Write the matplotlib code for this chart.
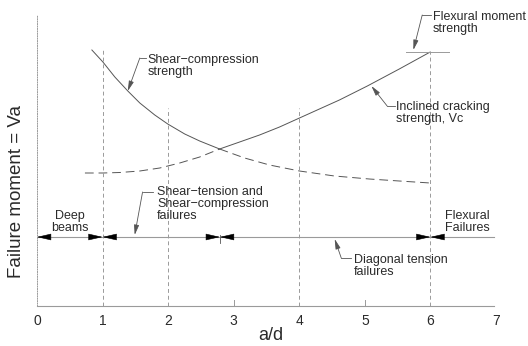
import matplotlib as mpl
mpl.use('Agg')
import matplotlib.pyplot as plt

plt.rcParams['font.family'] = ['Liberation Sans', 'DejaVu Sans']

# strength curves (a/d, relative strength)
shear_comp_x = [0.837, 1.005, 1.187, 1.385, 1.568, 1.796, 1.994, 2.253, 2.481, 2.785]
shear_comp_y = [256, 244, 229, 215, 203, 191, 182, 172, 165, 157]
shear_comp_tail_x = [2.785, 3.166, 3.546, 4.003, 4.536, 5.068, 5.525, 5.997]
shear_comp_tail_y = [157, 148, 141, 135, 130, 127, 125, 123]

crack_x = [0.731, 1.005, 1.263, 1.568, 1.872, 2.177, 2.481, 2.785]
crack_y = [133, 133, 133.5, 135, 138, 143, 149, 157]
crack_top_x = [2.785, 3.09, 3.394, 3.699, 4.003, 4.307, 4.612, 5.038, 5.525, 5.997]
crack_top_y = [157, 164, 171, 179, 188, 197, 206, 220, 237, 254]

flex_cap_x = [5.63, 6.29]
flex_level = 254

# dashed guides (a/d, top of line)
guide_x = [1, 2, 4, 6]
guide_top = [256, 198, 198, 254]

# failure ranges along the bottom band
range_y = 69
range_breaks = [0, 1, 2.79, 6]
range_end = 6.97

xticks = [0, 1, 2, 3, 4, 5, 6, 7]
small_ticks = [3, 5]

curve_col = '#555555'
guide_col = '#9a9a9a'
text_col = '#2a2a2a'

fig = plt.figure(figsize=(5.28, 3.46), dpi=100)
ax = fig.add_axes([37/528, 40/346, 459/528, 291/346])
ax.set_xlim(0, 7)
ax.set_ylim(0, 291)

ax.plot(shear_comp_x, shear_comp_y, color=curve_col, lw=0.7)
ax.plot(shear_comp_tail_x, shear_comp_tail_y, color=curve_col, lw=0.7, dashes=(9, 5))
ax.plot(crack_x, crack_y, color=curve_col, lw=0.7, dashes=(9, 5))
ax.plot(crack_top_x, crack_top_y, color=curve_col, lw=0.7)
ax.plot(flex_cap_x, [flex_level, flex_level], color=guide_col, lw=0.7)

for gx, gt in zip(guide_x, guide_top):
    ax.plot([gx, gx], [0, gt], color=guide_col, lw=0.7, dashes=(4, 3))

ax.plot([0, range_end], [range_y, range_y], color=guide_col, lw=0.8)
ax.plot([range_breaks[2], range_breaks[2]], [range_y - 6, range_y + 2], color=curve_col, lw=0.6)
for t in small_ticks:
    ax.plot([t, t], [0, 6], color=guide_col, lw=0.7)

def head(tip, direction, y=range_y):
    ax.annotate('', xy=(tip, y), xytext=(tip - direction * 0.15, y),
                arrowprops=dict(arrowstyle='-|>,head_length=0.65,head_width=0.15',
                                color='black', lw=0.4, mutation_scale=14,
                                shrinkA=0, shrinkB=0))

head(range_breaks[0], -1)
for b in range_breaks[1:]:
    head(b, 1)
    head(b, -1)

def leader(tip, elbow, end):
    ax.plot([elbow[0], end[0]], [elbow[1], end[1]], color=curve_col, lw=0.6)
    ax.annotate('', xy=tip, xytext=elbow,
                arrowprops=dict(arrowstyle='-|>,head_length=0.6,head_width=0.15',
                                color=curve_col, lw=0.6, mutation_scale=10,
                                shrinkA=0, shrinkB=0), annotation_clip=False)

leader((1.385, 215), (1.568, 248), (1.66, 248))
leader((5.74, 256), (5.875, 291), (6.01, 291))
leader((5.10, 220), (5.34, 200), (5.46, 200))
leader((1.49, 71), (1.61, 114), (1.77, 114))
leader((4.54, 67), (4.64, 48), (4.79, 48))

tkw = dict(fontsize=9, color=text_col, va='center', linespacing=0.95, clip_on=False)
ax.text(1.69, 240, 'Shear\u2212compression\nstrength', ha='left', **tkw)
ax.text(6.04, 283, 'Flexural moment\nstrength', ha='left', **tkw)
ax.text(5.48, 193, 'Inclined cracking\nstrength, Vc', ha='left', **tkw)
ax.text(1.83, 102, 'Shear\u2212tension and\nShear\u2212compression\nfailures', ha='left', **tkw)
ax.text(4.83, 40, 'Diagonal tension\nfailures', ha='left', **tkw)
ax.text(0.5, 84, 'Deep\nbeams', ha='center', **tkw)
ax.text(6.56, 84, 'Flexural\nFailures', ha='center', **tkw)

ax.set_xticks(xticks)
ax.set_xticklabels([str(t) for t in xticks], fontsize=10, color=text_col)
ax.tick_params(axis='x', length=0, pad=6)
ax.set_yticks([])

for s in ['top', 'right']:
    ax.spines[s].set_visible(False)
ax.spines['left'].set_linestyle((0, (1, 1.5)))
ax.spines['left'].set_color(guide_col)
ax.spines['left'].set_linewidth(0.7)
ax.spines['bottom'].set_color(guide_col)
ax.spines['bottom'].set_linewidth(0.8)
ax.spines['bottom'].set_bounds(0, range_end)

fig.text(17/528, 1 - 192/346, 'Failure moment = Va', rotation=90, fontsize=13.5,
         color=text_col, ha='center', va='center')
fig.text(271/528, 1 - 336/346, 'a/d', fontsize=13, color=text_col, ha='center', va='center')

fig.savefig('out.png', dpi=100)
